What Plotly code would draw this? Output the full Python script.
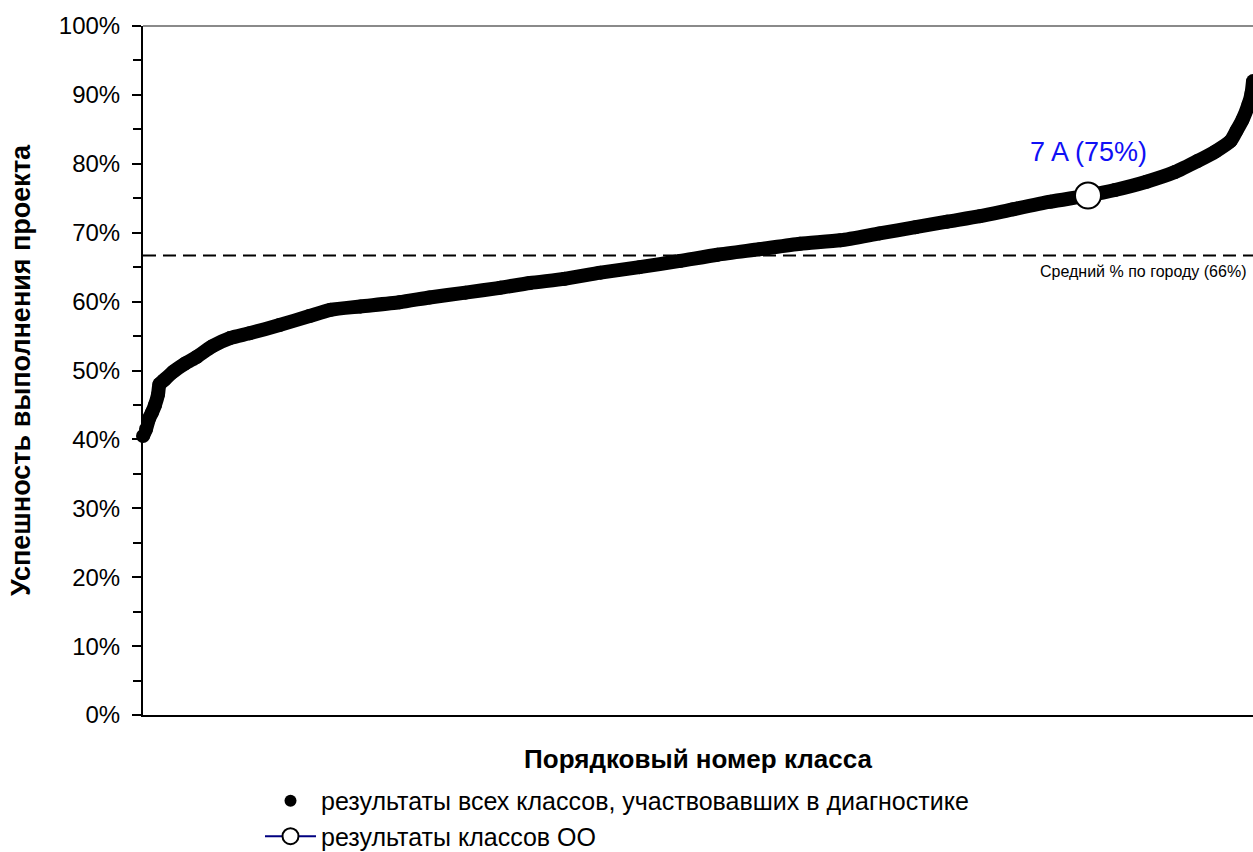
import plotly.graph_objects as go

# ---- data ----
class_index = [1, 3, 5, 7, 9, 11, 12, 15, 21, 29, 37, 47, 59, 72, 92, 112, 126, 146,
               172, 192, 216, 239, 259, 282, 306, 332, 359, 384, 412, 439, 466, 492,
               516, 537, 559, 581, 606, 631, 649, 670, 689, 704, 716, 726, 730, 734,
               738, 740, 741]
success = [0.405, 0.415, 0.430, 0.439, 0.450, 0.465, 0.480, 0.486, 0.498, 0.510,
           0.520, 0.535, 0.547, 0.554, 0.566, 0.579, 0.588, 0.593, 0.599, 0.606,
           0.613, 0.620, 0.627, 0.633, 0.642, 0.650, 0.659, 0.668, 0.676, 0.684,
           0.689, 0.699, 0.708, 0.716, 0.724, 0.734, 0.745, 0.754, 0.762, 0.774,
           0.788, 0.804, 0.818, 0.833, 0.848, 0.864, 0.886, 0.902, 0.920]

school_class_names = ["7 А"]
school_class_index = [631]
school_class_success = [0.754]
school_class_labels = ["7 A (75%)"]

city_average = 0.667
city_average_label = "Средний % по городу (66%)"

series_names = ["результаты всех классов, участвовавших в диагностике",
                "результаты классов ОО"]
x_title = "Порядковый номер класса"
y_title = "Успешность выполнения проекта"
y_ticks = [0.0, 0.1, 0.2, 0.3, 0.4, 0.5, 0.6, 0.7, 0.8, 0.9, 1.0]
y_tick_labels = ["0%", "10%", "20%", "30%", "40%", "50%", "60%", "70%", "80%", "90%", "100%"]

FONT = "Liberation Sans, Arial, sans-serif"

fig = go.Figure()

# all classes: thick black band of dots
fig.add_trace(go.Scatter(
    x=class_index, y=success, mode="lines+markers",
    line=dict(color="black", width=14, shape="spline", smoothing=0.6),
    marker=dict(color="black", size=14),
    showlegend=False, cliponaxis=False, hoverinfo="x+y",
))
# legend entry for all classes
fig.add_trace(go.Scatter(
    x=[None], y=[None], mode="markers", name=series_names[0],
    marker=dict(color="black", size=12),
))
# classes of the school
fig.add_trace(go.Scatter(
    x=school_class_index, y=school_class_success, mode="lines+markers",
    name=series_names[1],
    line=dict(color="#000080", width=2),
    marker=dict(color="white", size=26, line=dict(color="black", width=2)),
    cliponaxis=False,
))

for xi, yi, lab in zip(school_class_index, school_class_success, school_class_labels):
    fig.add_annotation(x=xi, y=yi, text=lab, showarrow=False, yshift=43,
                       font=dict(family=FONT, size=27, color="#1010F5"))

# city average dashed line
fig.add_shape(type="line", xref="paper", x0=0, x1=1, yref="y",
              y0=city_average, y1=city_average,
              line=dict(color="black", width=2, dash="13px,7px"))
fig.add_annotation(xref="paper", x=1, xanchor="right", xshift=-5, yref="y", y=city_average,
                   yshift=-16, text=city_average_label, showarrow=False,
                   font=dict(family=FONT, size=16, color="black"))

# top border (gray)
fig.add_shape(type="line", xref="paper", x0=0, x1=1, yref="paper", y0=1, y1=1,
              line=dict(color="#8a8a8a", width=2))

fig.update_layout(
    width=1253, height=852,
    margin=dict(l=143, r=0, t=26, b=137, autoexpand=False),
    paper_bgcolor="white", plot_bgcolor="white",
    font=dict(family=FONT, color="black"),
    xaxis=dict(range=[1, 741], showgrid=False, zeroline=False, showticklabels=False,
               ticks="", showline=True, linecolor="black", linewidth=2,
               title=dict(text="<b>" + x_title + "</b>", font=dict(size=26), standoff=34)),
    yaxis=dict(range=[0, 1], tickvals=y_ticks, ticktext=y_tick_labels,
               showgrid=False, zeroline=False, showline=True, linecolor="black",
               linewidth=2, ticks="outside", ticklen=9, tickwidth=2, tickcolor="black",
               tickfont=dict(size=24), ticklabelstandoff=7,
               minor=dict(dtick=0.05, ticks="outside", ticklen=8, tickwidth=2,
                          tickcolor="black", showgrid=False),
               title=dict(text="<b>" + y_title + "</b>", font=dict(size=27), standoff=20)),
    yaxis2=dict(range=[0, 1], tickvals=y_ticks, overlaying="y", side="left",
                anchor="x", showticklabels=False, showgrid=False, zeroline=False,
                ticks="inside", ticklen=7, tickwidth=2, tickcolor="black"),
    legend=dict(x=0.1054, xanchor="left", y=-0.0914, yanchor="top",
                font=dict(size=25), itemwidth=51, tracegroupgap=0,
                bgcolor="rgba(0,0,0,0)"),
)

fig.write_html("out.html", config={"displayModeBar": False},
               post_script="document.body.style.margin='0';")
